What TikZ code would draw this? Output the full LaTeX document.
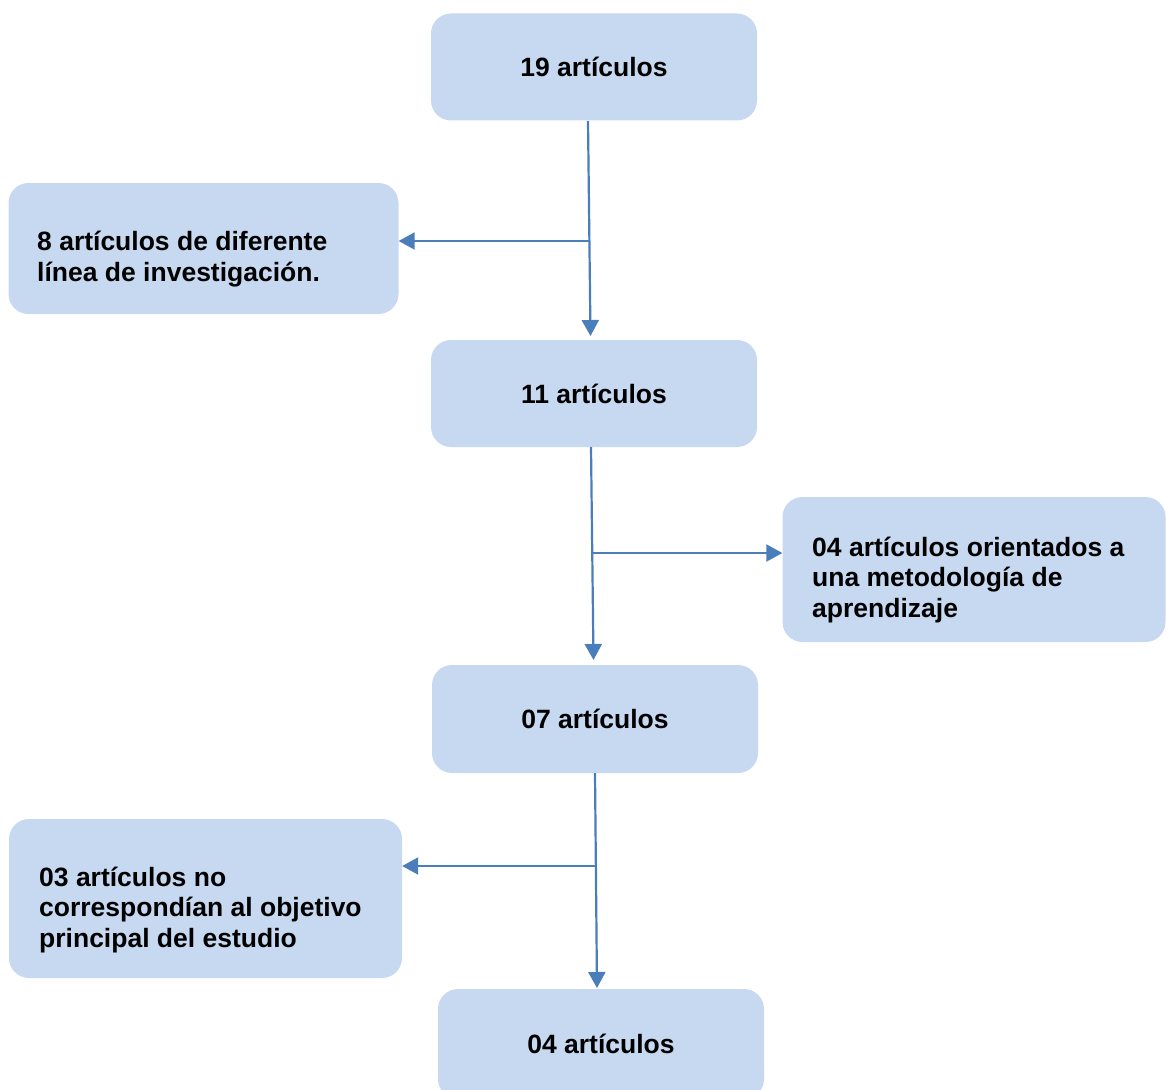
\documentclass[tikz,border=0pt]{standalone}
\usepackage{fontspec}
\setmainfont{Liberation Sans}
\usetikzlibrary{arrows.meta}
\definecolor{boxfill}{HTML}{C6D9F1}
\definecolor{linecol}{HTML}{4A7EBB}
\tikzset{
  flowbox/.style={fill=boxfill, draw=none, rounded corners=20pt, inner sep=0pt,
    font=\fontsize{26.5}{30.5}\selectfont\bfseries},
  boxtext/.style={anchor=base west, align=left, inner sep=0pt,
    font=\fontsize{26.5}{30.5}\selectfont\bfseries},
  conn/.style={draw=linecol, line width=2.2pt, -{Triangle[length=16pt,width=17pt]}},
  branch/.style={draw=linecol, line width=2.2pt}
}
\begin{document}
\begin{tikzpicture}[x=1pt,y=-1pt]
\useasboundingbox (0,0) rectangle (1166,1089);
\clip (0,0) rectangle (1166,1089);
% boxes
\node[flowbox, minimum width=326pt, minimum height=107pt] (b1) at (594,67) {19 artículos};
\node[flowbox, minimum width=390pt, minimum height=131pt] (b2) at (203.5,248.5) {};
\node[flowbox, minimum width=326pt, minimum height=107pt] (b3) at (594,393.5) {11 artículos};
\node[flowbox, minimum width=383pt, minimum height=145pt] (b4) at (974,569.5) {};
\node[flowbox, minimum width=326pt, minimum height=108pt] (b5) at (595,719) {07 artículos};
\node[flowbox, minimum width=393pt, minimum height=159pt] (b6) at (205.5,898.5) {};
\node[flowbox, minimum width=326pt, minimum height=110pt] (b7) at (601,1044) {04 artículos};
% multi-line texts (base anchor = last line baseline)
\node[boxtext] (t2) at (37,281) {8 artículos de diferente\\línea de investigación.};
\node[boxtext] (t4) at (812,617) {04 artículos orientados a\\una metodología de\\aprendizaje};
\node[boxtext] (t6) at (39,947) {03 artículos no\\correspondían al objetivo\\principal del estudio};
% junction coordinates
\coordinate (s1) at (588,121);
\coordinate (j1) at (589.5,241);
\coordinate (e1) at (590.5,336);
\coordinate (s2) at (591,447);
\coordinate (j2) at (592,553);
\coordinate (e2) at (593.5,660);
\coordinate (s3) at (595,773);
\coordinate (j3) at (596,866);
\coordinate (e3) at (597,988);
% connectors
\draw[conn] (s1) -- (e1);
\draw[conn] (j1) -- (b2.east |- j1);
\draw[conn] (s2) -- (e2);
\draw[conn] (j2) -- (b4.west |- j2);
\draw[conn] (s3) -- (e3);
\draw[conn] (j3) -- (b6.east |- j3);
\end{tikzpicture}
\end{document}
